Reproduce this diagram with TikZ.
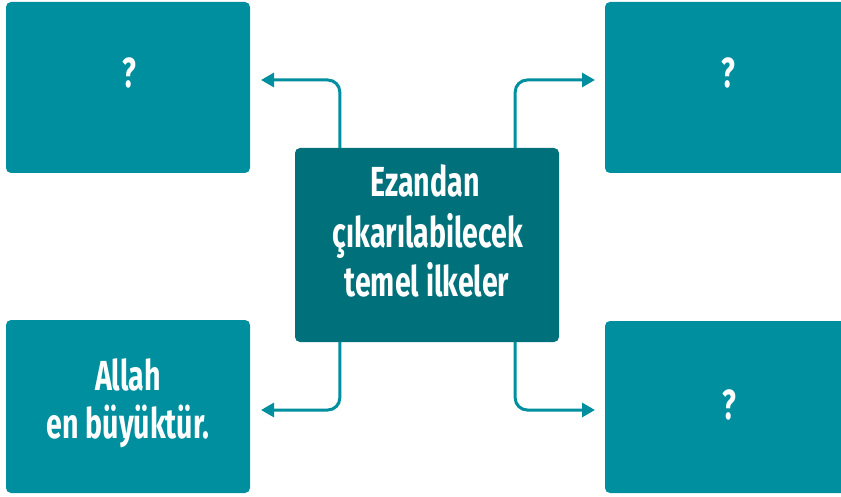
\documentclass[tikz,border=0pt]{standalone}
\usepackage{fontspec}
\setmainfont{Fira Sans}[FakeStretch=0.68]
\usetikzlibrary{arrows.meta}
\definecolor{boxc}{HTML}{008F9E}
\definecolor{centc}{HTML}{00707B}
\begin{document}
\begin{tikzpicture}[x=1pt,y=-1pt,
  side/.style={fill=boxc,rounded corners=5pt,draw=none},
  lbl/.style={text=white,font=\fontsize{42}{48}\selectfont\bfseries,anchor=base,inner sep=0pt},
  conn/.style={draw=boxc,line width=3pt,rounded corners=12pt,-{Triangle[length=13pt,width=14pt]}}]
\useasboundingbox (0,0) rectangle (841,497);
\clip (0,0) rectangle (841,497);
\path[side] (6,2) rectangle (250,173);
\path[side] (605,2) rectangle (860,173);
\path[side] (6,320) rectangle (250,493);
\path[side] (605,321) rectangle (860,493);
\node[lbl] (tl) at (129,88) {?};
\node[lbl] (tr) at (728,88) {?};
\node[lbl] (bl1) at (128,390) {Allah};
\node[lbl] (bl2) at (128,438) {en büyüktür.};
\node[lbl] (br) at (729,419) {?};
\coordinate (tle) at (250,80);
\coordinate (tre) at (605,80);
\coordinate (ble) at (250,410);
\coordinate (bre) at (605,410);
\node[fill=centc,rounded corners=5pt,minimum width=264pt,minimum height=194pt,inner sep=0pt] (c) at (427,245) {};
\node[lbl] (c1) at (425,197) {Ezandan};
\node[lbl] (c2) at (428,248) {çıkarılabilecek};
\node[lbl] (c3) at (427,297) {temel ilkeler};
\draw[conn,shorten >=11pt] ([xshift=45pt]c.north west) |- (tle);
\draw[conn,shorten >=10pt] ([xshift=-44pt]c.north east) |- (tre);
\draw[conn,shorten >=11pt] ([xshift=45pt]c.south west) |- (ble);
\draw[conn,shorten >=10pt] ([xshift=-44pt]c.south east) |- (bre);
\end{tikzpicture}
\end{document}
